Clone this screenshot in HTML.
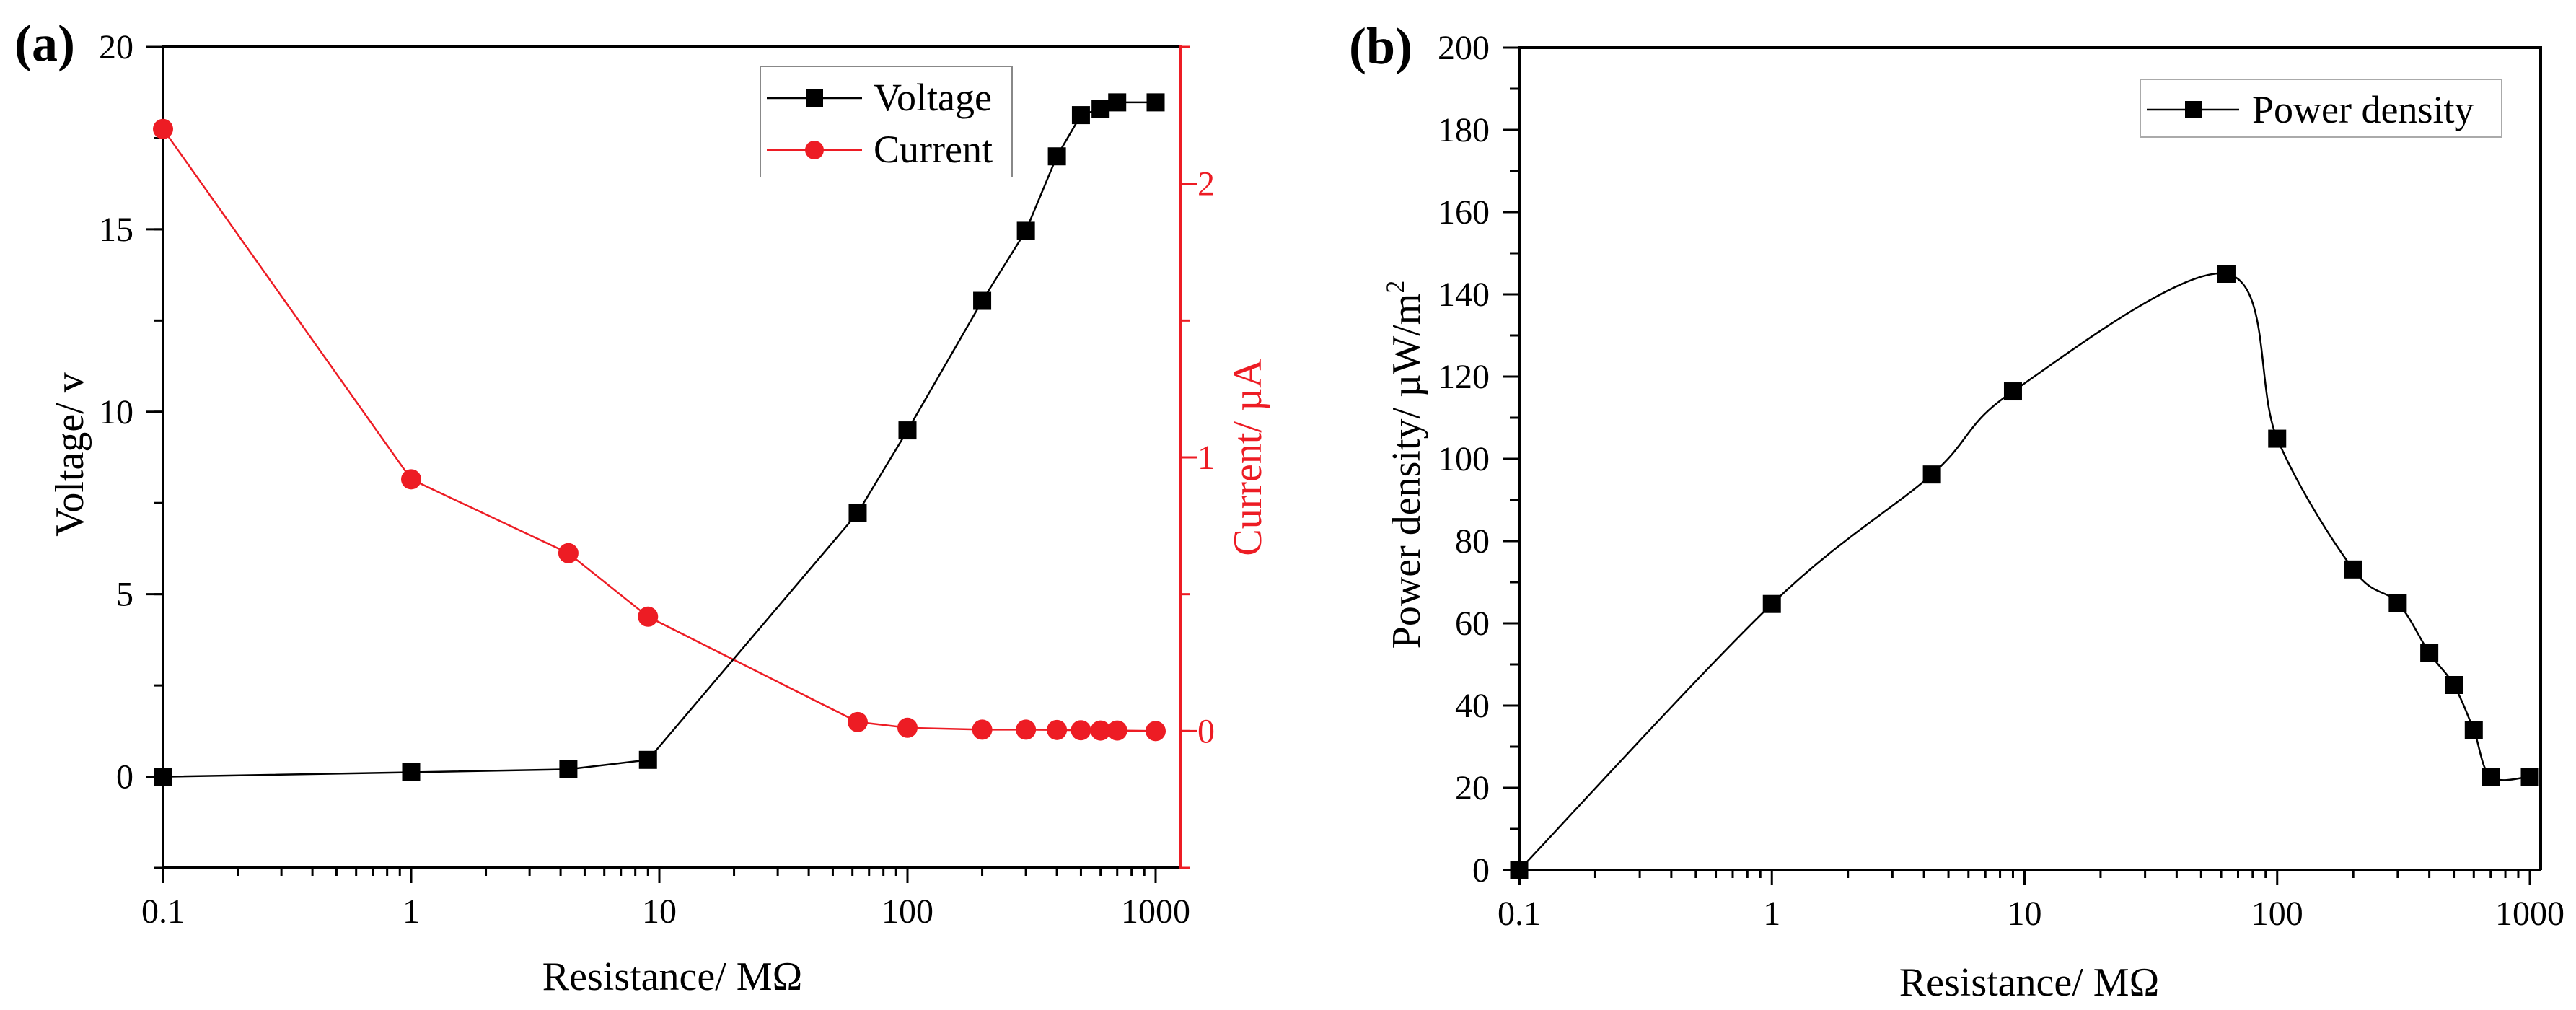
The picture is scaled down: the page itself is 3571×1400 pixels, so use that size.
<!DOCTYPE html>
<html><head><meta charset="utf-8"><style>
html,body{margin:0;padding:0;background:#fff;}
svg{display:block;font-family:"Liberation Serif",serif;}
</style></head><body>
<svg id="fig" width="3571" height="1400" viewBox="0 0 3571 1400" xmlns="http://www.w3.org/2000/svg"></svg>
<script>
// ---- data ----
const resistance = [0.1, 1, 4.3, 9, 63, 100, 200, 300, 400, 500, 600, 700, 1000];
const voltage = [0, 0.12, 0.2, 0.46, 7.23, 9.49, 13.04, 14.96, 17.0, 18.13, 18.3, 18.48, 18.48];
const current = [2.2, 0.92, 0.65, 0.418, 0.033, 0.012, 0.005, 0.005, 0.004, 0.003, 0.002, 0.002, 0.0];
const power = [0, 64.7, 96.2, 116.4, 145.0, 104.9, 73.1, 65.0, 52.8, 45.0, 34.0, 22.7, 22.7];
const xTicks = [0.1, 1, 10, 100, 1000];
const xTickLabels = ["0.1", "1", "10", "100", "1000"];
const vTicks = [0, 5, 10, 15, 20];
const iTicks = [0, 1, 2];
const pTicks = [0, 20, 40, 60, 80, 100, 120, 140, 160, 180, 200];

const NS = "http://www.w3.org/2000/svg";
const svg = document.getElementById('fig');
const RED = "#ed1c24";
function mk(tag, attrs, parent) {
  const e = document.createElementNS(NS, tag);
  for (const k in attrs) e.setAttribute(k, attrs[k]);
  (parent || svg).appendChild(e);
  return e;
}
function txt(s, attrs, parent) { const e = mk('text', attrs, parent); e.textContent = s; return e; }

function logX(L, R) { return v => L + (Math.log10(v) - Math.log10(0.1)) / 4 * (R - L); }
function linY(T, B, min, max) { return v => B - (v - min) / (max - min) * (B - T); }

function drawXAxis(g, sx, L, R, B, color) {
  const ax = mk('line', {x1: L, y1: B, x2: R, y2: B, stroke: '#000', 'stroke-width': 4}, g);
  
  
  for (let d = 0; d < 4; d++) {
    const base = Math.pow(10, d - 1);
    for (let m = 2; m <= 9; m++) {
      const x = sx(base * m);
      const t = mk('line', {x1: x, y1: B, x2: x, y2: B + 11, stroke: '#000', 'stroke-width': 3}, g);
      
      
    }
  }
  xTicks.forEach((v, i) => {
    const x = sx(v);
    const t = mk('line', {x1: x, y1: B, x2: x, y2: B + 21, stroke: '#000', 'stroke-width': 3}, g);
    
    
    const l = txt(xTickLabels[i], {x: x, y: B + 76, 'font-size': 48, 'text-anchor': 'middle', fill: '#000'}, g);
    
    
  });
}

function drawYAxis(g, sy, ticks, minorStep, min, max, X, side, color, labelX) {
  const dir = side === 'left' ? -1 : 1;
  for (let v = min; v <= max + 1e-9; v += minorStep) {
    const y = sy(v);
    const t = mk('line', {x1: X, y1: y, x2: X + dir * 13, y2: y, stroke: color, 'stroke-width': 3}, g);
    
    
  }
  ticks.forEach(v => {
    const y = sy(v);
    const t = mk('line', {x1: X, y1: y, x2: X + dir * 23, y2: y, stroke: color, 'stroke-width': 3}, g);
    
    
    const l = txt(String(v), {x: labelX, y: y + 16, 'font-size': 48, 'text-anchor': side === 'left' ? 'end' : 'start', fill: color}, g);
    
    
  });
}

function linePath(xs, ys) { return xs.map((x, i) => (i ? 'L' : 'M') + x.toFixed(1) + ',' + ys[i].toFixed(1)).join(''); }
function splinePath(xs, ys) {
  let d = 'M' + xs[0] + ',' + ys[0];
  for (let i = 0; i < xs.length - 1; i++) {
    const x0 = xs[Math.max(0, i - 1)], y0 = ys[Math.max(0, i - 1)];
    const x1 = xs[i], y1 = ys[i], x2 = xs[i + 1], y2 = ys[i + 1];
    const x3 = xs[Math.min(xs.length - 1, i + 2)], y3 = ys[Math.min(xs.length - 1, i + 2)];
    const c1x = x1 + (x2 - x0) / 6, c1y = y1 + (y2 - y0) / 6;
    const c2x = x2 - (x3 - x1) / 6, c2y = y2 - (y3 - y1) / 6;
    d += 'C' + c1x.toFixed(1) + ',' + c1y.toFixed(1) + ' ' + c2x.toFixed(1) + ',' + c2y.toFixed(1) + ' ' + x2.toFixed(1) + ',' + y2.toFixed(1);
  }
  return d;
}

// ================= Chart (a) =================
(function () {
  const L = 226, R = 1637, T = 65, B = 1203, XR = 1602;
  const g = mk('g', {});
  
  
  const sx = logX(L, XR);
  const syV = linY(T, B, -2.5, 20);
  const syI = linY(T, B, -0.5, 2.5);

  const pl = txt('(a)', {x: 20, y: 84, 'font-size': 72, 'font-weight': 'bold'}, g);
  
  

  // top axis
  const top = mk('line', {x1: L, y1: T, x2: R, y2: T, stroke: '#000', 'stroke-width': 4}, g);
  
  
  drawXAxis(g, sx, L, R, B);
  const ly = mk('line', {x1: L, y1: T - 2, x2: L, y2: B + 21, stroke: '#000', 'stroke-width': 4}, g);
  
  
  drawYAxis(g, syV, vTicks, 2.5, -2.5, 20, L, 'left', '#000', 185);
  const ry = mk('line', {x1: R, y1: T - 2, x2: R, y2: B + 2, stroke: RED, 'stroke-width': 4}, g);
  
  
  drawYAxis(g, syI, iTicks, 0.5, -0.5, 2.5, R, 'right', RED, 1660);

  const xt = txt('Resistance/ MΩ', {x: 932, y: 1372, 'font-size': 56, 'text-anchor': 'middle'}, g);
  
  
  const yt = txt('Voltage/ v', {x: 0, y: 0, 'font-size': 56, 'text-anchor': 'middle', transform: 'translate(115,630) rotate(-90)'}, g);
  
  
  const yt2 = txt('Current/ µA', {x: 0, y: 0, 'font-size': 56, 'text-anchor': 'middle', fill: RED, transform: 'translate(1748,634) rotate(-90)'}, g);
  
  

  const xs = resistance.map(sx);
  const cl = mk('path', {d: linePath(xs, current.map(syI)), fill: 'none', stroke: RED, 'stroke-width': 2.5}, g);
  
  
  const vl = mk('path', {d: linePath(xs, voltage.map(syV)), fill: 'none', stroke: '#000', 'stroke-width': 2.5}, g);
  
  
  current.forEach((v, i) => {
    const c = mk('circle', {cx: xs[i], cy: syI(v), r: 14, fill: RED}, g);
    
    
  });
  voltage.forEach((v, i) => {
    const s = mk('rect', {x: xs[i] - 12.5, y: syV(v) - 12.5, width: 25, height: 25, fill: '#000'}, g);
    
    
  });

  // legend
  const lg = mk('g', {}, g);
  
  
  mk('path', {d: 'M1054,246 L1054,92 L1403,92 L1403,246', fill: 'none', stroke: '#888', 'stroke-width': 2}, lg);
  mk('line', {x1: 862, y1: 0, x2: 0, y2: 0, stroke: 'none'}, lg);
  const le1 = mk('g', {}, lg);
  
  
  mk('line', {x1: 1063, y1: 136, x2: 1195, y2: 136, stroke: '#000', 'stroke-width': 2.5}, le1);
  mk('rect', {x: 1117, y: 124, width: 24, height: 24, fill: '#000'}, le1);
  txt('Voltage', {x: 1211, y: 153, 'font-size': 54}, le1);
  const le2 = mk('g', {}, lg);
  
  
  mk('line', {x1: 1063, y1: 208, x2: 1195, y2: 208, stroke: RED, 'stroke-width': 2.5}, le2);
  mk('circle', {cx: 1129, cy: 208, r: 13, fill: RED}, le2);
  txt('Current', {x: 1211, y: 225, 'font-size': 54}, le2);
})();

// ================= Chart (b) =================
(function () {
  const L = 2106, R = 3522, T = 66, B = 1206, XR = 3507;
  const g = mk('g', {});
  
  
  const sx = logX(L, XR);
  const sy = linY(T, B, 0, 200);

  const pl = txt('(b)', {x: 1870, y: 88, 'font-size': 72, 'font-weight': 'bold'}, g);
  
  

  const fr = mk('path', {d: `M${L},${T} L${R},${T} L${R},${B}`, fill: 'none', stroke: '#000', 'stroke-width': 4}, g);
  
  
  drawXAxis(g, sx, L, R, B);
  const ly = mk('line', {x1: L, y1: T - 2, x2: L, y2: B + 21, stroke: '#000', 'stroke-width': 4}, g);
  
  
  drawYAxis(g, sy, pTicks, 10, 0, 200, L, 'left', '#000', 2065);

  const xt = txt('Resistance/ MΩ', {x: 2813, y: 1380, 'font-size': 56, 'text-anchor': 'middle'}, g);
  
  
  const yt = mk('text', {x: 0, y: 0, 'font-size': 56, 'text-anchor': 'middle', transform: 'translate(1968,644) rotate(-90)'}, g);
  
  
  yt.appendChild(document.createTextNode('Power density/ µW/m'));
  const sup = document.createElementNS(NS, 'tspan');
  sup.setAttribute('dy', '-22');
  sup.setAttribute('font-size', '36');
  sup.textContent = '2';
  yt.appendChild(sup);

  const xs = resistance.map(sx);
  const ys = power.map(sy);
  const pl2 = mk('path', {d: splinePath(xs, ys), fill: 'none', stroke: '#000', 'stroke-width': 2.5}, g);
  
  
  power.forEach((v, i) => {
    const s = mk('rect', {x: xs[i] - 12.5, y: sy(v) - 12.5, width: 25, height: 25, fill: '#000'}, g);
    
    
  });

  const lg = mk('g', {}, g);
  
  
  mk('path', {d: 'M2967,190 L2967,110 L3468,110 L3468,190 Z', fill: 'none', stroke: '#aaa', 'stroke-width': 2}, lg);
  const le = mk('g', {}, lg);
  
  
  mk('line', {x1: 2976, y1: 152, x2: 3104, y2: 152, stroke: '#000', 'stroke-width': 2.5}, le);
  mk('rect', {x: 3029, y: 140, width: 24, height: 24, fill: '#000'}, le);
  txt('Power density', {x: 3122, y: 170, 'font-size': 54}, le);
})();
</script>
</body></html>
